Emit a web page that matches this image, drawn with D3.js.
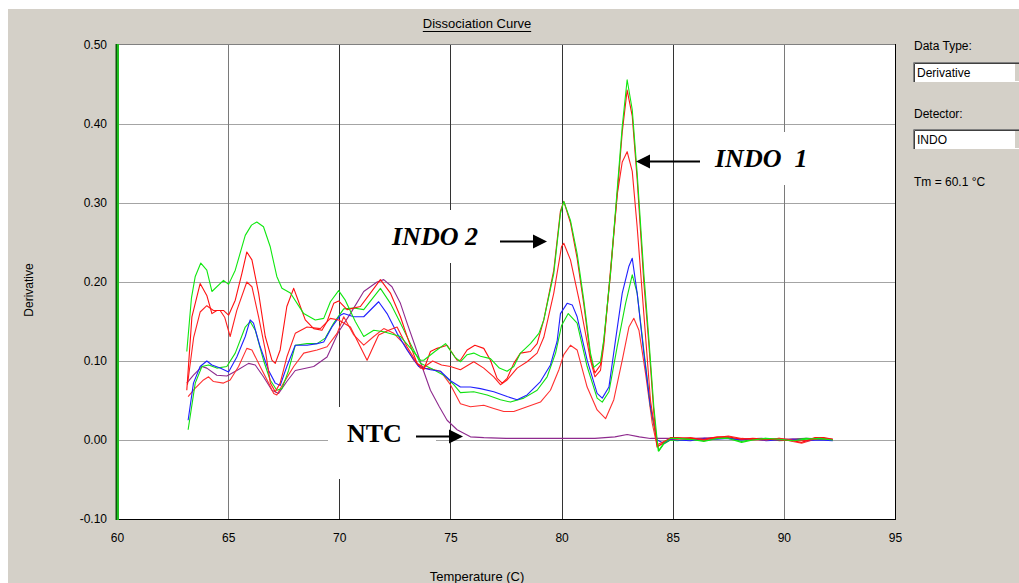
<!DOCTYPE html>
<html lang="en">
<head>
<meta charset="utf-8">
<style>
  body { margin: 0; background: #fff; }
  svg { display: block; font-family: 'Liberation Sans', Arial, sans-serif; }
  .ui text { font-size: 12px; fill: #000; }
  .anno { font-family: 'Liberation Serif', 'Times New Roman', serif; font-weight: bold; font-size: 26px; fill: #000; }
</style>
</head>
<body>
<svg width="1019" height="583"></svg>
<script src="https://d3js.org/d3.v7.min.js"></script>
<script>
// tick values
const xTicks = [60, 65, 70, 75, 80, 85, 90, 95]
const yTicks = [-0.10, 0.00, 0.10, 0.20, 0.30, 0.40, 0.50]

// melt curves, [temperature, derivative]
const greenHigh = [[63.14,0.112],[63.35,0.18],[63.52,0.207],[63.77,0.224],[64.04,0.215],[64.27,0.188],[64.79,0.202],[65.02,0.197],[65.32,0.215],[65.77,0.259],[66.05,0.272],[66.29,0.276],[66.59,0.270],[66.89,0.245],[67.19,0.207],[67.42,0.192],[67.8,0.186],[68.4,0.160],[68.92,0.152],[69.3,0.154],[69.6,0.175],[69.97,0.189],[70.27,0.177],[70.72,0.15],[71.1,0.131],[71.55,0.139],[72.0,0.137],[72.75,0.131],[73.27,0.114],[73.65,0.101],[73.8,0.101],[74.3,0.112],[74.78,0.122],[75.2,0.105],[75.45,0.099],[75.75,0.108],[76.05,0.11],[76.35,0.106],[76.8,0.103],[77.2,0.091],[77.55,0.087],[77.85,0.093],[78.15,0.11],[78.6,0.122],[78.98,0.135],[79.2,0.152],[79.65,0.211],[79.95,0.287],[80.1,0.302],[80.4,0.278],[80.7,0.236],[81.0,0.177],[81.3,0.110],[81.45,0.092],[81.75,0.099],[81.9,0.127],[82.2,0.211],[82.5,0.316],[82.73,0.397],[82.95,0.456],[83.18,0.418],[83.4,0.338],[83.7,0.211],[83.93,0.127],[84.15,0.042],[84.35,-0.014],[84.6,-0.004],[84.9,0.002],[85.2,0.002],[85.8,0.001],[86.4,-0.002],[87.0,0.002],[87.5,0.002],[88.1,-0.003],[88.6,0.0],[89.2,0.002],[89.8,0.001],[90.4,-0.001],[91.0,0.001],[91.6,0.002],[92.2,0.0]]

const redHigh = [[63.14,0.063],[63.37,0.156],[63.74,0.198],[64.04,0.183],[64.27,0.16],[64.49,0.164],[64.79,0.164],[65.02,0.158],[65.32,0.177],[65.62,0.211],[65.84,0.238],[66.07,0.228],[66.37,0.186],[66.67,0.131],[66.97,0.101],[67.12,0.097],[67.34,0.114],[67.64,0.169],[67.95,0.192],[68.17,0.175],[68.47,0.152],[68.85,0.141],[69.22,0.139],[69.45,0.15],[69.75,0.173],[69.97,0.176],[70.35,0.165],[70.95,0.169],[71.4,0.186],[71.85,0.203],[72.3,0.186],[72.75,0.156],[73.1,0.127],[73.5,0.097],[73.8,0.089],[74.1,0.112],[74.4,0.116],[74.85,0.12],[75.3,0.101],[75.45,0.101],[75.75,0.114],[76.1,0.12],[76.5,0.116],[76.8,0.101],[77.1,0.078],[77.33,0.072],[77.55,0.078],[77.85,0.097],[78.15,0.11],[78.6,0.112],[78.9,0.122],[79.2,0.152],[79.65,0.215],[79.95,0.29],[80.1,0.302],[80.4,0.275],[80.7,0.23],[81.0,0.172],[81.3,0.105],[81.5,0.085],[81.75,0.095],[81.9,0.125],[82.2,0.21],[82.5,0.31],[82.73,0.39],[82.95,0.443],[83.18,0.41],[83.4,0.33],[83.7,0.2],[83.93,0.12],[84.15,0.035],[84.3,-0.009],[84.6,-0.003],[84.9,0.003],[85.2,0.003],[85.8,0.002],[86.4,0.001],[87.0,0.004],[87.5,0.004],[88.1,0.001],[88.6,0.002],[89.2,0.001],[89.8,0.0],[90.4,-0.001],[90.8,-0.003],[91.4,0.003],[91.8,0.003],[92.2,0.001]]

const redMid = [[63.17,0.07],[63.45,0.13],[63.74,0.162],[64.04,0.17],[64.34,0.164],[64.64,0.164],[64.85,0.155],[65.09,0.131],[65.39,0.164],[65.84,0.2],[66.07,0.194],[66.37,0.156],[66.67,0.114],[66.9,0.072],[67.12,0.061],[67.34,0.072],[67.64,0.105],[68.02,0.135],[68.55,0.143],[69.15,0.141],[69.6,0.154],[69.97,0.152],[70.5,0.143],[71.25,0.101],[71.77,0.133],[72.22,0.139],[72.6,0.143],[73.05,0.118],[73.5,0.097],[73.8,0.092],[74.2,0.1],[74.6,0.095],[75.0,0.093],[75.45,0.089],[76.05,0.099],[76.5,0.091],[76.95,0.08],[77.25,0.07],[77.55,0.076],[78.0,0.091],[78.45,0.099],[78.9,0.11],[79.2,0.13],[79.65,0.186],[80.0,0.245],[80.1,0.249],[80.4,0.228],[80.85,0.169],[81.3,0.101],[81.5,0.08],[81.75,0.088],[81.9,0.12],[82.2,0.215],[82.5,0.31],[82.73,0.352],[82.95,0.365],[83.18,0.34],[83.4,0.27],[83.7,0.16],[84.0,0.05],[84.3,-0.006],[84.6,-0.002],[84.9,0.002],[85.2,0.001],[85.8,0.003],[86.4,0.0],[87.0,0.003],[87.5,0.005],[88.1,0.002],[88.6,0.001],[89.2,0.0],[89.8,0.002],[90.4,0.0],[91.0,-0.001],[91.6,0.002],[92.2,0.001]]

const blueWell = [[63.2,0.025],[63.44,0.072],[63.74,0.093],[64.04,0.1],[64.27,0.095],[64.64,0.091],[65.02,0.086],[65.39,0.105],[65.77,0.131],[65.99,0.152],[66.14,0.148],[66.44,0.118],[66.82,0.088],[67.12,0.072],[67.34,0.069],[67.64,0.093],[68.02,0.12],[68.55,0.12],[69.0,0.122],[69.3,0.124],[69.67,0.143],[70.05,0.158],[70.2,0.16],[70.65,0.156],[71.1,0.156],[71.77,0.175],[72.15,0.16],[72.6,0.135],[73.05,0.114],[73.57,0.093],[74.1,0.089],[74.55,0.087],[75.0,0.075],[75.45,0.067],[75.9,0.067],[76.35,0.065],[76.95,0.061],[77.55,0.055],[78.0,0.051],[78.45,0.057],[79.05,0.074],[79.5,0.095],[79.8,0.125],[79.95,0.16],[80.25,0.173],[80.48,0.171],[80.7,0.156],[81.15,0.101],[81.6,0.059],[81.83,0.053],[82.13,0.067],[82.43,0.127],[82.73,0.186],[83.03,0.22],[83.18,0.23],[83.4,0.186],[83.7,0.11],[84.0,0.042],[84.3,0.0],[84.6,-0.004],[84.9,0.001],[85.2,0.0],[85.8,-0.001],[86.4,0.002],[87.0,0.001],[87.5,0.002],[88.1,0.0],[88.6,0.002],[89.2,-0.001],[89.8,0.0],[90.4,0.001],[91.0,-0.001],[91.6,0.0],[92.2,-0.001]]

const greenLow = [[63.2,0.013],[63.52,0.072],[63.82,0.093],[64.12,0.095],[64.49,0.091],[64.94,0.093],[65.32,0.11],[65.77,0.143],[65.99,0.15],[66.22,0.139],[66.59,0.101],[66.89,0.076],[67.19,0.063],[67.42,0.065],[67.72,0.088],[68.02,0.12],[68.55,0.122],[69.0,0.122],[69.37,0.129],[69.75,0.148],[70.2,0.166],[70.65,0.167],[71.1,0.165],[71.85,0.192],[72.3,0.173],[72.75,0.148],[73.2,0.122],[73.65,0.097],[74.25,0.089],[74.7,0.082],[75.15,0.07],[75.45,0.06],[76.05,0.061],[76.65,0.057],[77.25,0.051],[77.7,0.048],[78.3,0.053],[78.9,0.063],[79.35,0.08],[79.73,0.11],[80.0,0.145],[80.3,0.16],[80.7,0.148],[81.15,0.093],[81.6,0.053],[81.83,0.048],[82.13,0.061],[82.5,0.118],[82.88,0.173],[83.18,0.209],[83.4,0.186],[83.7,0.114],[84.0,0.042],[84.38,-0.014],[84.6,-0.005],[84.9,0.0],[85.2,-0.001],[85.8,0.001],[86.4,-0.001],[87.0,0.002],[87.5,0.003],[88.1,-0.002],[88.6,0.001],[89.2,0.002],[89.8,-0.001],[90.4,0.0],[91.0,0.002],[91.6,0.001],[92.2,0.0]]

const redLow = [[63.2,0.055],[63.5,0.065],[63.89,0.076],[64.12,0.08],[64.34,0.074],[64.79,0.072],[65.09,0.076],[65.47,0.093],[65.84,0.116],[66.07,0.114],[66.44,0.093],[66.82,0.072],[67.05,0.059],[67.19,0.057],[67.49,0.072],[67.95,0.093],[68.4,0.11],[69.0,0.114],[69.45,0.118],[69.9,0.135],[70.2,0.156],[70.65,0.133],[71.1,0.12],[71.55,0.131],[72.0,0.141],[72.45,0.135],[72.9,0.122],[73.35,0.101],[73.65,0.091],[74.1,0.09],[74.55,0.087],[75.0,0.07],[75.45,0.046],[75.9,0.042],[76.5,0.044],[76.95,0.04],[77.4,0.036],[77.85,0.036],[78.45,0.042],[79.05,0.048],[79.5,0.063],[79.88,0.089],[80.1,0.108],[80.4,0.12],[80.7,0.114],[81.15,0.067],[81.6,0.038],[81.98,0.027],[82.35,0.051],[82.73,0.101],[83.03,0.143],[83.25,0.154],[83.48,0.139],[83.78,0.084],[84.08,0.021],[84.3,-0.008],[84.6,-0.004],[84.9,0.001],[85.2,0.002],[85.8,0.0],[86.4,0.001],[87.0,0.003],[87.5,0.002],[88.1,0.001],[88.6,0.0],[89.2,0.001],[89.8,0.002],[90.4,-0.002],[90.8,-0.004],[91.4,0.001],[92.2,0.0]]

const ntcPurple = [[63.14,0.072],[63.44,0.082],[63.82,0.093],[64.04,0.091],[64.49,0.082],[64.94,0.081],[65.39,0.088],[65.92,0.097],[66.22,0.095],[66.59,0.08],[66.97,0.063],[67.27,0.059],[67.64,0.074],[68.02,0.088],[68.85,0.093],[69.45,0.105],[69.97,0.137],[70.5,0.16],[71.1,0.188],[71.7,0.2],[72.0,0.203],[72.37,0.194],[72.75,0.173],[73.05,0.148],[73.4,0.12],[73.72,0.093],[74.1,0.063],[74.5,0.042],[74.85,0.025],[75.3,0.013],[75.9,0.004],[76.5,0.003],[77.5,0.002],[78.5,0.002],[79.5,0.002],[80.5,0.002],[81.5,0.002],[82.4,0.004],[82.95,0.007],[83.5,0.004],[84.0,0.002],[85.0,0.002],[86.0,0.002],[87.0,0.003],[88.0,0.001],[89.0,0.002],[90.0,0.001],[91.0,0.002],[92.2,0.001]]

const series = [
  { name: 'NTC', values: ntcPurple, color: '#8e2a8e' },
  { name: 'low red', values: redLow, color: '#ff3030' },
  { name: 'low green', values: greenLow, color: '#10e010' },
  { name: 'blue', values: blueWell, color: '#2020ff' },
  { name: 'mid red', values: redMid, color: '#ff2020' },
  { name: 'high red', values: redHigh, color: '#ff1010' },
  { name: 'high green', values: greenHigh, color: '#10e810' }
]

const W = 1019, H = 583
const plot = { left: 117, right: 895, top: 45, bottom: 519 }

const svg = d3.select('svg')

// window chrome
svg.append('rect').attr('width', W).attr('height', H).attr('fill', '#fff')
svg.append('rect').attr('x', 8).attr('y', 9).attr('width', W - 8).attr('height', H - 9).attr('fill', '#d4d0c8')

const x = d3.scaleLinear().domain([60, 95]).range([plot.left, plot.right])
const y = d3.scaleLinear().domain([-0.1, 0.5]).range([plot.bottom, plot.top])

// plot background
svg.append('rect')
  .attr('x', plot.left).attr('y', plot.top)
  .attr('width', plot.right - plot.left).attr('height', plot.bottom - plot.top)
  .attr('fill', '#fff')

// grid
svg.append('g').selectAll('line.h').data(yTicks.slice(1, -1)).join('line')
  .attr('x1', plot.left).attr('x2', plot.right)
  .attr('y1', d => Math.round(y(d)) + 0.5).attr('y2', d => Math.round(y(d)) + 0.5)
  .attr('stroke', '#a4a4a4').attr('stroke-width', 1.2)
svg.append('g').selectAll('line.v').data(xTicks.slice(1, -1)).join('line')
  .attr('x1', d => Math.round(x(d)) + 0.5).attr('x2', d => Math.round(x(d)) + 0.5)
  .attr('y1', plot.top).attr('y2', plot.bottom)
  .attr('stroke', (d, i) => (i % 5 === 0 ? '#7a7a7a' : '#333'))

// frame
svg.append('line').attr('x1', plot.left).attr('x2', plot.right + 1)
  .attr('y1', plot.top - 0.5).attr('y2', plot.top - 0.5).attr('stroke', '#808080')
svg.append('line').attr('x1', plot.right + 0.5).attr('x2', plot.right + 0.5)
  .attr('y1', plot.top - 1).attr('y2', plot.bottom + 1).attr('stroke', '#000')
svg.append('line').attr('x1', plot.left).attr('x2', plot.right + 1)
  .attr('y1', plot.bottom + 0.5).attr('y2', plot.bottom + 0.5).attr('stroke', '#000')
svg.append('rect').attr('x', plot.left - 1.5).attr('y', plot.top - 1)
  .attr('width', 1.5).attr('height', plot.bottom - plot.top + 2).attr('fill', '#0b5a0b')
svg.append('rect').attr('x', plot.left).attr('y', plot.top - 1)
  .attr('width', 2).attr('height', plot.bottom - plot.top + 2).attr('fill', '#1fbf1f')

// curves
svg.append('clipPath').attr('id', 'clip').append('rect')
  .attr('x', plot.left + 2).attr('y', plot.top)
  .attr('width', plot.right - plot.left - 2).attr('height', plot.bottom - plot.top)

const line = d3.line()
  .x(d => x(d[0]))
  .y(d => y(d[1]))

svg.append('g').attr('clip-path', 'url(#clip)')
  .selectAll('path').data(series).join('path')
  .attr('d', d => line(d.values))
  .attr('fill', 'none')
  .attr('stroke', d => d.color)
  .attr('stroke-width', 1.1)
  .attr('stroke-linejoin', 'round')

// axes
const yAxis = svg.append('g')
  .attr('transform', `translate(${plot.left},0)`)
  .call(d3.axisLeft(y).tickValues(yTicks).tickSize(0).tickPadding(10).tickFormat(d => d.toFixed(2)))
const xAxis = svg.append('g')
  .attr('transform', `translate(0,${plot.bottom})`)
  .call(d3.axisBottom(x).tickValues(xTicks).tickSize(0).tickPadding(14).tickFormat(d3.format('d')))
;[xAxis, yAxis].forEach(g => {
  g.select('.domain').remove()
  g.attr('font-family', null).attr('font-size', null)
  g.selectAll('text').attr('font-size', 12).attr('fill', '#000')
})

// title and axis titles
const title = svg.append('text')
  .attr('x', 477).attr('y', 28).attr('text-anchor', 'middle')
  .attr('font-size', 13).text('Dissociation Curve')
const tw = title.node().getComputedTextLength()
svg.append('line').attr('x1', 477 - tw / 2).attr('x2', 477 + tw / 2)
  .attr('y1', 31.5).attr('y2', 31.5).attr('stroke', '#000')

svg.append('text')
  .attr('transform', 'translate(33,290) rotate(-90)')
  .attr('text-anchor', 'middle').attr('font-size', 12).text('Derivative')
svg.append('text')
  .attr('x', 477).attr('y', 581).attr('text-anchor', 'middle')
  .attr('font-size', 13).text('Temperature (C)')

// right-hand panel
const ui = svg.append('g').attr('class', 'ui')
function dropBox(y0, label) {
  ui.append('rect').attr('x', 913).attr('y', y0).attr('width', 110).attr('height', 21).attr('fill', '#fff')
  ui.append('path').attr('d', `M913.5,${y0 + 21}V${y0 + 0.5}H1019`).attr('stroke', '#808080').attr('fill', 'none')
  ui.append('path').attr('d', `M914.5,${y0 + 20}V${y0 + 1.5}H1019`).attr('stroke', '#404040').attr('fill', 'none')
  ui.append('line').attr('x1', 913).attr('x2', 1019).attr('y1', y0 + 20.5).attr('y2', y0 + 20.5).attr('stroke', '#d4d0c8')
  ui.append('rect').attr('x', 1014).attr('y', y0 + 2).attr('width', 6).attr('height', 17).attr('fill', '#d4d0c8')
  ui.append('line').attr('x1', 1014.5).attr('x2', 1014.5).attr('y1', y0 + 2).attr('y2', y0 + 19).attr('stroke', '#fff')
  ui.append('text').attr('x', 917).attr('y', y0 + 15).text(label)
}
ui.append('text').attr('x', 914).attr('y', 50).text('Data Type:')
dropBox(62, 'Derivative')
ui.append('text').attr('x', 914).attr('y', 118).text('Detector:')
dropBox(129, 'INDO')
ui.append('text').attr('x', 914).attr('y', 186).text('Tm = 60.1 °C')

// pasted-on labels with arrows
function arrow(x1, x2, yy) {
  const dir = Math.sign(x2 - x1)
  const hx = x2 - dir * 14
  svg.append('line').attr('x1', x1).attr('x2', hx).attr('y1', yy).attr('y2', yy)
    .attr('stroke', '#000').attr('stroke-width', 2)
  svg.append('path').attr('d', `M${x2},${yy}L${hx},${yy - 7}L${hx},${yy + 7}Z`).attr('fill', '#000')
}

svg.append('rect').attr('x', 697).attr('y', 132).attr('width', 143).attr('height', 53).attr('fill', '#fff')
svg.append('text').attr('class', 'anno').attr('x', 715).attr('y', 167)
  .attr('font-style', 'italic').attr('xml:space', 'preserve').style('white-space', 'pre').text('INDO  1')
arrow(700, 636, 161.5)

svg.append('rect').attr('x', 378).attr('y', 210).attr('width', 167).attr('height', 53).attr('fill', '#fff')
svg.append('text').attr('class', 'anno').attr('x', 392).attr('y', 245)
  .attr('font-style', 'italic').text('INDO 2')
arrow(500, 547, 241.5)

svg.append('rect').attr('x', 328).attr('y', 407).attr('width', 108).attr('height', 72).attr('fill', '#fff')
svg.append('text').attr('class', 'anno').attr('x', 347).attr('y', 442).text('NTC')
arrow(416, 463, 436.5)
</script>
</body>
</html>
